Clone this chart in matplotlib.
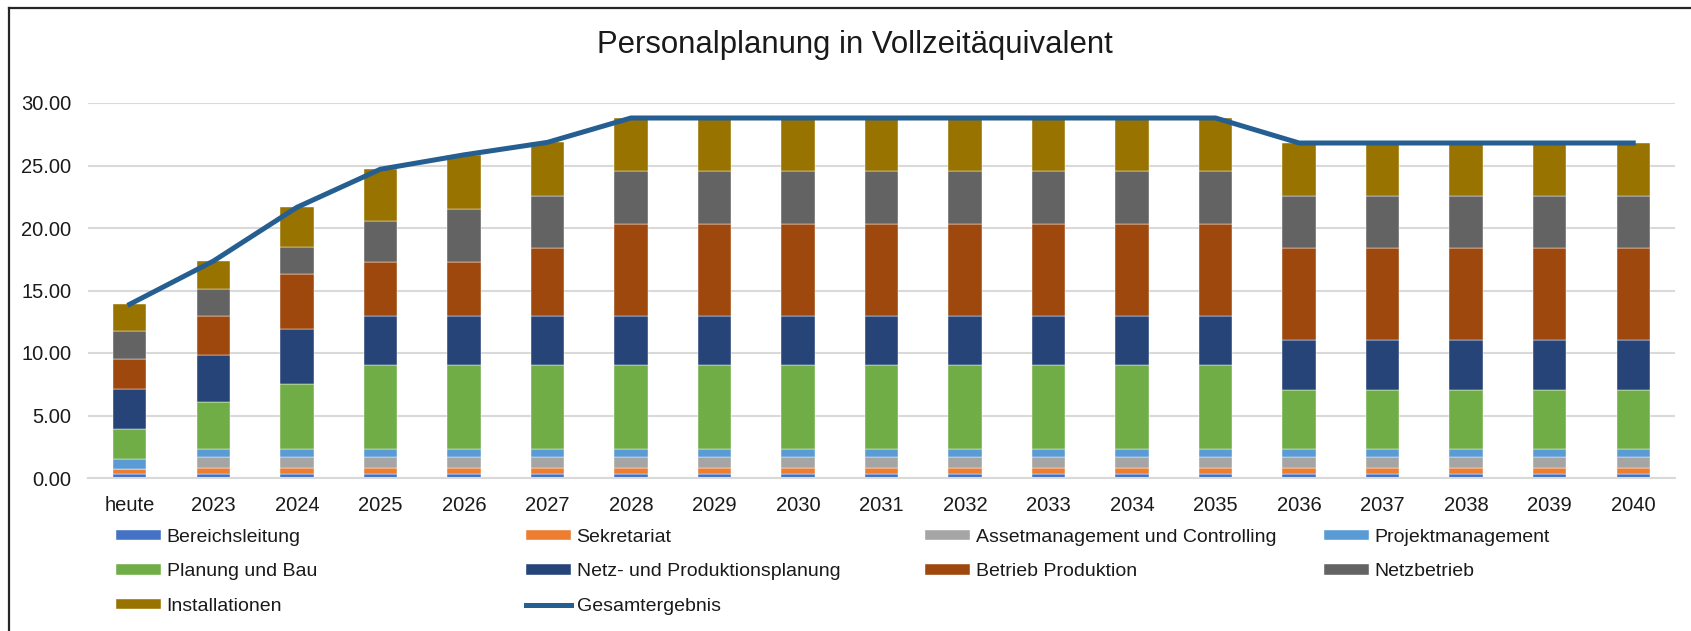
import matplotlib.pyplot as plt
from matplotlib.lines import Line2D
import numpy as np

plt.rcParams['font.family'] = ['Liberation Sans', 'DejaVu Sans']

# Kategorien
JAHRE = ["heute", "2023", "2024", "2025", "2026", "2027", "2028", "2029", "2030",
         "2031", "2032", "2033", "2034", "2035", "2036", "2037", "2038", "2039", "2040"]

# Werte pro Bereich (VZÄ)
bereichsleitung = [0.35] * 19
sekretariat = [0.40] + [0.45] * 18
assetmanagement = [0.0] + [0.85] * 18
projektmanagement = [0.80] + [0.70] * 18
planung_bau = [2.40, 3.70, 5.15, 6.70, 6.70, 6.70, 6.70, 6.70, 6.70, 6.70, 6.70, 6.70,
               6.70, 6.70, 4.70, 4.70, 4.70, 4.70, 4.70]
netz_produktion = [3.20, 3.80, 4.40, 3.90, 3.90, 3.90, 3.90, 3.90, 3.90, 3.90, 3.90, 3.90,
                   3.90, 3.90, 4.00, 4.00, 4.00, 4.00, 4.00]
betrieb_produktion = [2.40, 3.10, 4.40, 4.35, 4.35, 5.45, 7.40, 7.40, 7.40, 7.40, 7.40, 7.40,
                      7.40, 7.40, 7.35, 7.35, 7.35, 7.35, 7.35]
netzbetrieb = [2.25, 2.20, 2.15, 3.30, 4.25, 4.20, 4.25, 4.25, 4.25, 4.25, 4.25, 4.25,
               4.25, 4.25, 4.20, 4.20, 4.20, 4.20, 4.20]
installationen = [2.10, 2.20, 3.20, 4.10, 4.30, 4.25, 4.20, 4.20, 4.20, 4.20, 4.20, 4.20,
                  4.20, 4.20, 4.20, 4.20, 4.20, 4.20, 4.20]
gesamt = [13.90, 17.35, 21.65, 24.70, 25.85, 26.85, 28.80, 28.80, 28.80, 28.80, 28.80, 28.80,
          28.80, 28.80, 26.80, 26.80, 26.80, 26.80, 26.80]

serien = [
    ("Bereichsleitung", bereichsleitung, "#4472C4"),
    ("Sekretariat", sekretariat, "#ED7D31"),
    ("Assetmanagement und Controlling", assetmanagement, "#A5A5A5"),
    ("Projektmanagement", projektmanagement, "#5B9BD5"),
    ("Planung und Bau", planung_bau, "#70AD47"),
    ("Netz- und Produktionsplanung", netz_produktion, "#264478"),
    ("Betrieb Produktion", betrieb_produktion, "#9E480E"),
    ("Netzbetrieb", netzbetrieb, "#636363"),
    ("Installationen", installationen, "#997300"),
]

fig = plt.figure(figsize=(16.91, 6.31), dpi=100)
ax = fig.add_axes([88 / 1691, 1 - 478 / 631, 1587 / 1691, 375 / 631])

x = np.arange(len(JAHRE))
unten = np.zeros(len(JAHRE))
handles = []
for name, werte, farbe in serien:
    b = ax.bar(x, werte, width=0.4, bottom=unten, color=farbe, label=name,
               edgecolor="white", linewidth=0.3, zorder=2)
    unten += np.array(werte)
    handles.append(b)

linie, = ax.plot(x, gesamt, color="#255E91", linewidth=3.6, zorder=3,
                 solid_joinstyle="round", label="Gesamtergebnis")
handles.append(linie)

ax.set_xlim(-0.5, len(JAHRE) - 0.5)
ax.set_ylim(0, 30)
ax.set_yticks(np.arange(0, 31, 5))
ax.set_yticklabels([f"{v:.2f}" for v in np.arange(0, 31, 5)])
ax.set_xticks(x)
ax.set_xticklabels(JAHRE)
ax.tick_params(axis="both", length=0, labelsize=14.5, labelcolor="#1a1a1a")
ax.tick_params(axis="y", pad=12)
ax.tick_params(axis="x", pad=13)
ax.grid(axis="y", color="#D9D9D9", linewidth=1.5, zorder=0)
ax.set_axisbelow(True)
for s in ["top", "right", "left"]:
    ax.spines[s].set_visible(False)
ax.spines["bottom"].set_color("#D9D9D9")
ax.spines["bottom"].set_linewidth(1.5)

fig.text(855 / 1691, 1 - 45 / 631, "Personalplanung in Vollzeitäquivalent",
         ha="center", va="center", fontsize=22.4, color="#1a1a1a")

# Legende: vier Spalten, zeilenweise gefüllt
spalten_x = [116, 526, 925, 1324]
for i, sx in enumerate(spalten_x):
    h = handles[i::4]
    leg = fig.legend(handles=h, labels=[hh.get_label() for hh in h],
                     loc="upper left", bbox_to_anchor=(sx / 1691, 1 - 529 / 631),
                     frameon=False, fontsize=14, handlelength=2.3, handleheight=0.45,
                     handletextpad=0.3, labelspacing=0.9, borderaxespad=0,
                     borderpad=0)
    for t in leg.get_texts():
        t.set_color("#1a1a1a")

# Rahmen oben und links
fig.add_artist(Line2D([9 / 1691, 1], [1 - 8 / 631, 1 - 8 / 631], color="#262626",
                      linewidth=1.6, transform=fig.transFigure))
fig.add_artist(Line2D([9 / 1691, 9 / 1691], [0, 1 - 8 / 631], color="#262626",
                      linewidth=1.6, transform=fig.transFigure))

fig.savefig("out.png", dpi=100)
